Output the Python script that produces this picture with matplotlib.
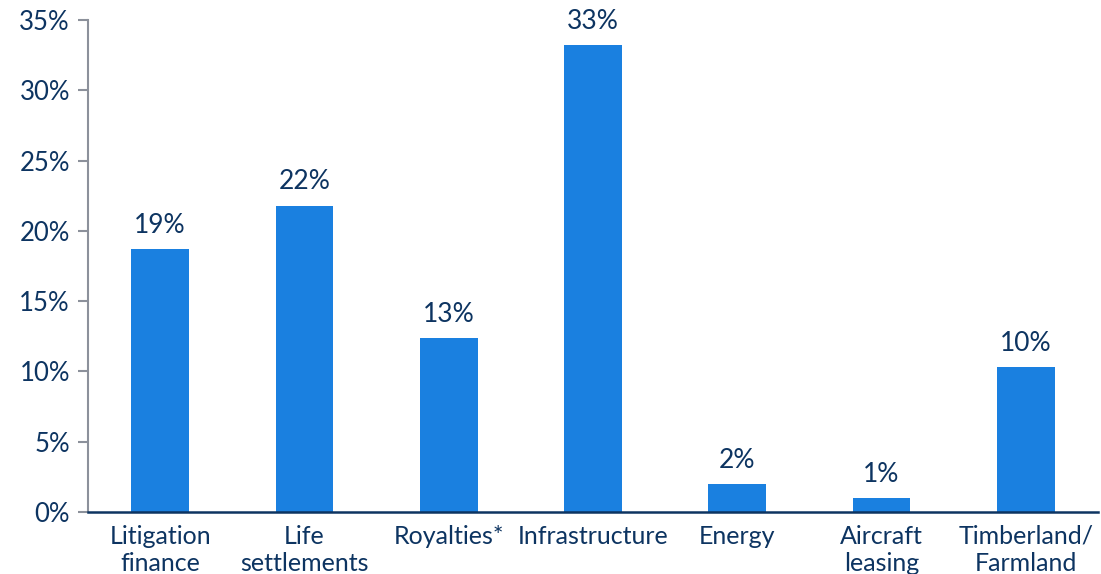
import matplotlib
matplotlib.use('Agg')
import matplotlib.pyplot as plt
from matplotlib.ticker import FuncFormatter

categories = ['Litigation\nfinance', 'Life\nsettlements', 'Royalties*', 'Infrastructure',
              'Energy', 'Aircraft\nleasing', 'Timberland/\nFarmland']
values = [18.7, 21.8, 12.4, 33.2, 2.0, 1.0, 10.3]
labels = ['19%', '22%', '13%', '33%', '2%', '1%', '10%']
yticks = [0, 5, 10, 15, 20, 25, 30, 35]

navy = '#0d3461'
blue = '#1a80e0'
gray = '#8c919b'

plt.rcParams['font.family'] = ['Lato', 'DejaVu Sans']

fig = plt.figure(figsize=(11.01, 5.74), dpi=100)
ax = fig.add_axes([88 / 1101, 62 / 574, 1010 / 1101, 492 / 574])

x = range(len(categories))
bars = ax.bar(x, values, width=0.4, color=blue, zorder=2)

for b, lab in zip(bars, labels):
    ax.annotate(lab, (b.get_x() + b.get_width() / 2, b.get_height()),
                xytext=(0, 8), textcoords='offset points',
                ha='center', va='bottom', fontsize=19, color=navy)

ax.set_xlim(-0.5, len(categories) - 0.5)
ax.set_ylim(0, 35)
ax.set_yticks(yticks)
ax.yaxis.set_major_formatter(FuncFormatter(lambda v, p: f'{v:.0f}%'))
ax.set_xticks(list(x))
ax.set_xticklabels(categories, linespacing=1.25)

ax.tick_params(axis='y', length=7, width=1.5, color=gray, labelsize=18.5,
               labelcolor=navy, pad=6)
ax.tick_params(axis='x', length=0, labelsize=18, labelcolor=navy, pad=9)

for s in ['top', 'right']:
    ax.spines[s].set_visible(False)
ax.spines['left'].set_color(gray)
ax.spines['left'].set_linewidth(1.5)
ax.spines['bottom'].set_color(navy)
ax.spines['bottom'].set_linewidth(1.8)
ax.spines['bottom'].set_zorder(3)

fig.savefig('out.png', dpi=100)
